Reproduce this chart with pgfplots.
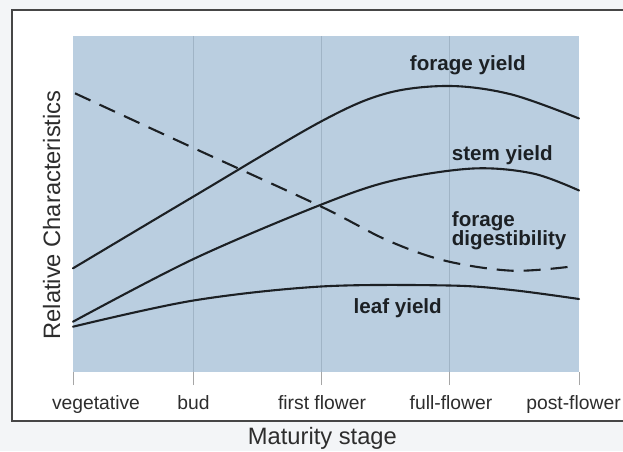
\documentclass[border=0pt]{standalone}
\usepackage{pgfplots}
\pgfplotsset{compat=1.18}
\usepackage{fontspec}
\setmainfont{Liberation Sans}
\definecolor{plotblue}{RGB}{186,206,224}
\definecolor{gridc}{RGB}{160,180,198}
\definecolor{curvec}{RGB}{28,32,36}
\definecolor{framec}{RGB}{70,70,70}
\definecolor{outside}{RGB}{243,245,247}
\definecolor{labelc}{RGB}{45,45,45}
\begin{document}
\begin{tikzpicture}
\useasboundingbox (0,0) rectangle (623pt,451pt);
\fill[outside] (0,0) rectangle (623pt,451pt);
\filldraw[fill=white, draw=framec, line width=1.8pt] (12pt,30pt) rectangle (632pt,441pt);
\begin{axis}[
  at={(73pt,79pt)}, anchor=south west,
  scale only axis, width=506pt, height=336pt,
  xmin=0, xmax=506, ymin=0, ymax=336,
  axis background/.style={fill=plotblue},
  axis line style={draw=none},
  xtick={120.5,248,376.7},
  xticklabels={,,},
  extra x ticks={0,506},
  extra x tick labels={,},
  extra x tick style={grid=none},
  ytick=\empty,
  xtick pos=left,
  tick align=outside,
  major tick length=13pt,
  x tick style={color=gray!70, line width=0.9pt},
  xmajorgrids,
  grid style={gridc, line width=0.7pt},
  clip=false,
]
% forage yield
\addplot[curvec, line width=2.1pt, smooth, tension=0.55, line cap=round, line join=round] coordinates {(0,103.7)(120.5,175.5)(248,250.5)(313.7,278.7)(377,286)(438.7,277.5)(506,253.5)};
% stem yield
\addplot[curvec, line width=2.1pt, smooth, tension=0.55, line cap=round, line join=round] coordinates {(0,50.3)(120.5,113)(248.5,167.5)(320,191.5)(400,203.5)(460,198.5)(506,181.5)};
% leaf yield
\addplot[curvec, line width=2.1pt, smooth, tension=0.55, line cap=round, line join=round] coordinates {(0,45.3)(120.5,71.5)(248,85.5)(376,86.5)(438.7,82)(506,73)};
% forage digestibility
\addplot[curvec, line width=2.1pt, smooth, tension=0.55, dash pattern=on 17pt off 10pt, line cap=butt] coordinates {(2,278.7)(120.5,224)(248,165.5)(313.7,132)(372,111.3)(438.7,101.3)(497,105.3)};

% category labels
\begin{scope}[every node/.style={font=\fontsize{19.3}{22}\selectfont, text=labelc, anchor=base, inner sep=0pt}]
\node at (axis cs:23,-37.3) {vegetative};
\node at (axis cs:120.5,-37.3) {bud};
\node at (axis cs:249,-37.3) {first flower};
\node at (axis cs:378,-37.3) {full-flower};
\node at (axis cs:500.5,-37.3) {post-flower};
\end{scope}
\node[font=\fontsize{23.7}{28}\selectfont, text=labelc, anchor=base, inner sep=0pt] at (axis cs:249.4,-72) {Maturity stage};
\node[rotate=90, font=\fontsize{23.7}{28}\selectfont, text=labelc, inner sep=0pt] at (axis cs:-21.4,157) {Relative Characteristics};

% curve labels
\begin{scope}[every node/.style={font=\bfseries\fontsize{20.6}{24}\selectfont, text=curvec, inner sep=0pt}]
\node[anchor=base] at (axis cs:394.8,302) {forage yield};
\node[anchor=base west] at (axis cs:378.7,211.3) {stem yield};
\node[anchor=base west] at (axis cs:378.7,146) {forage};
\node[anchor=base west] at (axis cs:378.7,127) {digestibility};
\node[anchor=base] at (axis cs:324.7,59) {leaf yield};
\end{scope}
\end{axis}
\end{tikzpicture}
\end{document}
